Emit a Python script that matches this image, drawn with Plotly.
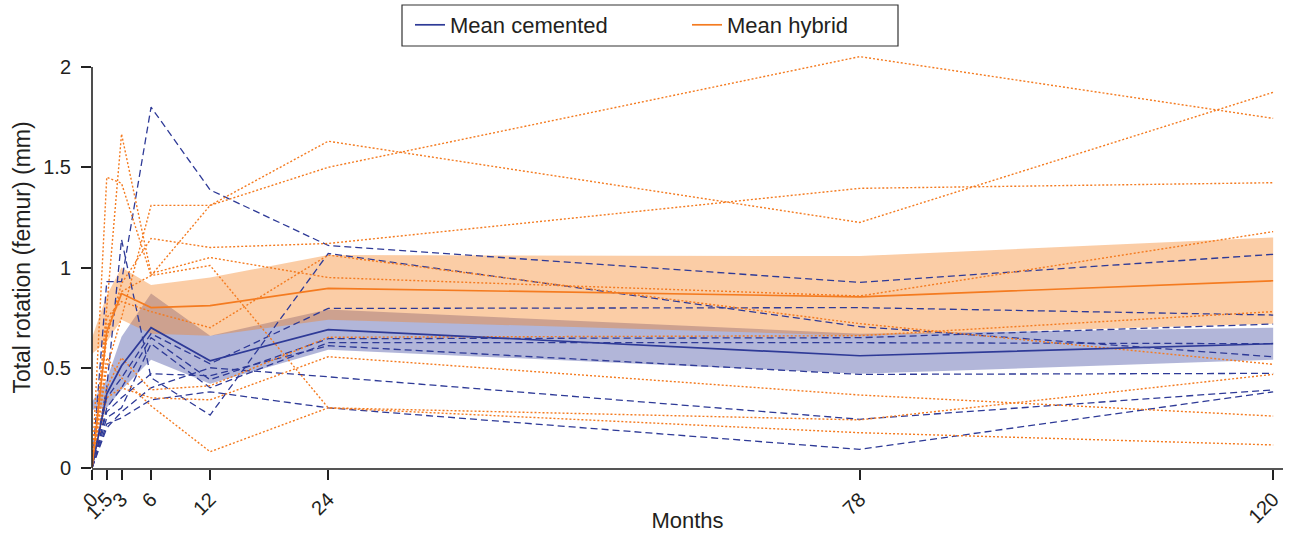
import plotly.graph_objects as go

months = [0, 1.5, 3, 6, 12, 24, 78, 120]
tick_vals = [0, 1.5, 3, 6, 12, 24, 78, 120]
tick_text = ["0", "1.5", "3", "6", "12", "24", "78", "120"]
y_ticks = [0, 0.5, 1, 1.5, 2]
y_text = ["0", "0.5", "1", "1.5", "2"]

cem_mean = [0, 0.37, 0.51, 0.70, 0.535, 0.69, 0.56, 0.62]
cem_low = [0.29, 0.30, 0.39, 0.54, 0.42, 0.59, 0.47, 0.54]
cem_high = [0.33, 0.44, 0.655, 0.87, 0.66, 0.79, 0.67, 0.70]

hyb_mean = [0, 0.68, 0.87, 0.80, 0.81, 0.896, 0.854, 0.934]
hyb_low = [0.57, 0.63, 0.74, 0.67, 0.66, 0.74, 0.66, 0.72]
hyb_high = [0.65, 0.86, 1.00, 0.913, 0.95, 1.062, 1.057, 1.15]

cem_1 = [0, 0.93, 0.93, 1.80, 1.387, 1.11, 0.926, 1.066]
cem_2 = [0, 0.40, 1.14, 0.45, 0.264, 1.07, 0.705, 0.555]
cem_3 = [0, 0.35, 0.45, 0.67, 0.52, 0.796, 0.80, 0.763]
cem_4 = [0, 0.30, 0.40, 0.65, 0.44, 0.645, 0.65, 0.718]
cem_5 = [0, 0.25, 0.30, 0.62, 0.40, 0.625, 0.625, 0.62]
cem_6 = [0, 0.28, 0.35, 0.47, 0.46, 0.61, 0.467, 0.472]
cem_7 = [0, 0.20, 0.28, 0.40, 0.50, 0.455, 0.243, 0.39]
cem_8 = [0, 0.22, 0.25, 0.34, 0.38, 0.30, 0.093, 0.38]

hyb_1 = [0, 0.50, 0.75, 1.31, 1.31, 1.63, 1.225, 1.874]
hyb_2 = [0, 1.45, 1.42, 0.96, 1.31, 1.50, 2.052, 1.744]
hyb_3 = [0, 0.65, 0.92, 1.145, 1.10, 1.12, 1.395, 1.423]
hyb_4 = [0, 0.80, 1.666, 0.97, 1.05, 0.95, 0.858, 1.179]
hyb_5 = [0, 0.75, 0.83, 0.78, 0.70, 1.062, 0.72, 0.517]
hyb_6 = [0, 0.40, 0.55, 0.39, 0.41, 0.652, 0.66, 0.78]
hyb_7 = [0, 0.35, 0.40, 0.35, 0.34, 0.555, 0.364, 0.259]
hyb_8 = [0, 0.55, 0.45, 0.31, 0.081, 0.30, 0.24, 0.467]
hyb_9 = [0, 0.70, 0.88, 0.96, 1.01, 0.30, 0.176, 0.115]

cemented_patients = [cem_1, cem_2, cem_3, cem_4, cem_5, cem_6, cem_7, cem_8]
hybrid_patients = [hyb_1, hyb_2, hyb_3, hyb_4, hyb_5, hyb_6, hyb_7, hyb_8, hyb_9]

BLUE = "#2E3A97"
ORANGE = "#F47B20"
FONT = "Liberation Sans"
TXT = "#231F20"

W, H = 1292, 533
ML, MR, MT, MB = 92, 9, 47, 65
PW, PH = W - ML - MR, H - MT - MB


def px_x(px):
    return (px - ML) / PW


def px_y(py):
    return (H - MB - py) / PH


fig = go.Figure()


def band(x, lo, hi, color):
    return go.Scatter(
        x=list(x) + list(x)[::-1],
        y=list(hi) + list(lo)[::-1],
        fill="toself", fillcolor=color, mode="none",
        hoverinfo="skip", showlegend=False,
    )


fig.add_trace(band(months, cem_low, cem_high, "rgba(46,58,151,0.37)"))
fig.add_trace(band(months, hyb_low, hyb_high, "rgba(245,130,32,0.40)"))

for p in cemented_patients:
    fig.add_trace(go.Scatter(x=months, y=p, mode="lines",
                             line=dict(color=BLUE, width=1.3, dash="7px,4px"),
                             showlegend=False, hoverinfo="skip"))
for p in hybrid_patients:
    fig.add_trace(go.Scatter(x=months, y=p, mode="lines",
                             line=dict(color=ORANGE, width=1.4, dash="2px,2px"),
                             showlegend=False, hoverinfo="skip"))

fig.add_trace(go.Scatter(x=months, y=cem_mean, mode="lines", name="Mean cemented",
                         line=dict(color=BLUE, width=1.7)))
fig.add_trace(go.Scatter(x=months, y=hyb_mean, mode="lines", name="Mean hybrid",
                         line=dict(color=ORANGE, width=1.7)))

# y axis line only up to the top tick (2)
fig.add_shape(type="line", xref="paper", yref="y", x0=0, x1=0, y0=0, y1=2,
              line=dict(color="#222", width=1.6))
# legend frame
fig.add_shape(type="rect", xref="paper", yref="paper",
              x0=px_x(402), x1=px_x(898), y0=px_y(46), y1=px_y(5),
              line=dict(color="#333", width=1.2), fillcolor="rgba(0,0,0,0)")

fig.update_layout(
    width=W, height=H,
    margin=dict(l=ML, r=MR, t=MT, b=MB, autoexpand=False),
    plot_bgcolor="white", paper_bgcolor="white",
    font=dict(family=FONT, color=TXT, size=20),
    legend=dict(orientation="h", xref="container", x=410 / W, xanchor="left",
                yref="container", y=1 - 25 / H, yanchor="middle",
                bgcolor="rgba(0,0,0,0)", borderwidth=0,
                font=dict(family=FONT, size=22, color=TXT),
                entrywidth=232, entrywidthmode="pixels"),
    xaxis=dict(range=[0, 121], tickmode="array", tickvals=tick_vals, ticktext=tick_text,
               tickangle=-45, ticks="outside", ticklen=10, tickwidth=1.6, tickcolor="#222",
               showline=True, linecolor="#555", linewidth=1.6, showgrid=False, zeroline=False,
               tickfont=dict(size=20), automargin=False,
               title=dict(text="Months", font=dict(size=22), standoff=4)),
    yaxis=dict(range=[0, 2.1], tickmode="array", tickvals=y_ticks, ticktext=y_text,
               ticks="outside", ticklen=10, tickwidth=1.6, tickcolor="#222",
               showline=False, showgrid=False, zeroline=False,
               tickfont=dict(size=20), automargin=False, ticklabelstandoff=6,
               title=dict(text="Total rotation (femur) (mm)", font=dict(size=23), standoff=6)),
)

fig.write_html("out.html")
